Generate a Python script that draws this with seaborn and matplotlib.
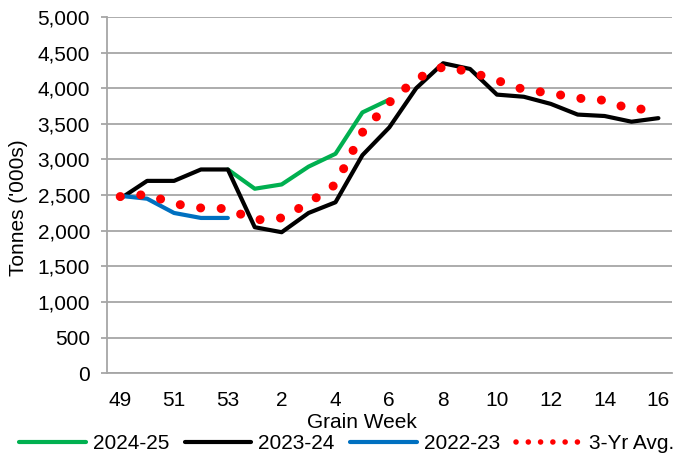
import numpy as np
import pandas as pd
import matplotlib.pyplot as plt
import seaborn as sns
from matplotlib.lines import Line2D
from matplotlib.ticker import FuncFormatter

# grain weeks, 49 of one year through 16 of the next
weeks = ["49", "50", "51", "52", "53", "1", "2", "3", "4", "5", "6",
         "7", "8", "9", "10", "11", "12", "13", "14", "15", "16"]

# tonnes ('000s)
s2024_25 = [np.nan] * 4 + [2860, 2590, 2650, 2900, 3080, 3660, 3840] + [np.nan] * 10
s2023_24 = [2450, 2700, 2700, 2860, 2860, 2050, 1980, 2250, 2400, 3060, 3450,
            4000, 4350, 4270, 3910, 3880, 3780, 3630, 3610, 3530, 3580]
s2022_23 = [2490, 2450, 2250, 2180, 2180] + [np.nan] * 16
avg3 = [2480, 2510, 2380, 2320, 2310, 2150, 2180, 2390, 2650, 3380, 3800,
        4130, 4300, 4230, 4110, 3980, 3930, 3860, 3830, 3700, 3720]

df = pd.DataFrame({
    "pos": np.arange(len(weeks)),
    "week": weeks,
    "2024-25": s2024_25,
    "2023-24": s2023_24,
    "2022-23": s2022_23,
    "3-Yr Avg.": avg3,
})

sns.set_style("white")
plt.rcParams["font.family"] = ["Liberation Sans", "DejaVu Sans"]
plt.rcParams["text.color"] = "black"

fs = 15
fig = plt.figure(figsize=(6.8, 4.57), dpi=100)
ax = fig.add_axes([0.157, 0.183, 0.831, 0.780])

grey = "#a6a6a6"

sns.lineplot(data=df, x="pos", y="2024-25", ax=ax, color="#00b050", lw=3)
sns.lineplot(data=df, x="pos", y="2023-24", ax=ax, color="black", lw=3)
sns.lineplot(data=df, x="pos", y="2022-23", ax=ax, color="#0070c0", lw=3)
sns.lineplot(data=df, x="pos", y="3-Yr Avg.", ax=ax, color="#ff0000", lw=6.5,
             linestyle=(0, (0.01, 2.27)), dash_capstyle="round")

ax.set_xlim(-0.5, len(weeks) - 0.5)
ax.set_ylim(0, 5000)
ax.set_yticks(range(0, 5001, 500))
ax.yaxis.set_major_formatter(FuncFormatter(lambda v, p: f"{int(v):,}"))
ax.grid(axis="y", color=grey, lw=1.3)
ax.set_axisbelow(True)

ax.set_xticks(df["pos"][::2])
ax.set_xticklabels(df["week"][::2])
ax.set_xticks(np.arange(-0.5, len(weeks)), minor=True)
ax.tick_params(axis="x", which="major", length=0, pad=13, labelsize=fs, labelcolor="black")
ax.tick_params(axis="x", which="minor", length=5, width=1.3, color=grey, direction="out")
ax.tick_params(axis="y", length=4, width=1.3, color=grey, pad=8, labelsize=fs,
               labelcolor="black", left=True)

for side in ["top", "right"]:
    ax.spines[side].set_visible(False)
for side in ["left", "bottom"]:
    ax.spines[side].set_color(grey)
    ax.spines[side].set_linewidth(1.3)

ax.set_xlabel("")
ax.set_ylabel("")
fig.text(0.532, 0.076, "Grain Week", ha="center", va="center", fontsize=fs)
fig.text(0.027, 0.545, "Tonnes ('000s)", rotation=90, ha="center", va="center", fontsize=fs)

handles = [
    Line2D([], [], color="#00b050", lw=3),
    Line2D([], [], color="black", lw=3),
    Line2D([], [], color="#0070c0", lw=3),
    Line2D([], [], color="#ff0000", lw=4, linestyle=(0, (0.01, 2.2)), dash_capstyle="round"),
]
fig.legend(handles, ["2024-25", "2023-24", "2022-23", "3-Yr Avg."],
           loc="center", bbox_to_anchor=(0.51, 0.029), ncol=4, frameon=False,
           fontsize=fs, handlelength=3.2, handletextpad=0.33, columnspacing=0.75,
           borderpad=0, borderaxespad=0)

fig.savefig("out.png", dpi=100)
